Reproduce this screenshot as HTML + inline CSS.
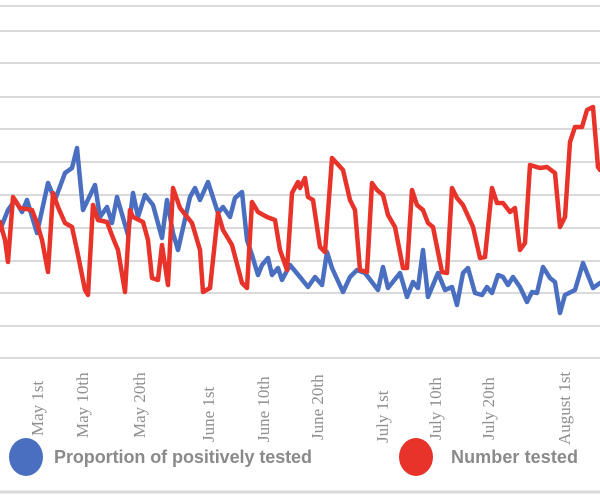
<!DOCTYPE html>
<html><head><meta charset="utf-8"><style>html,body{margin:0;padding:0;background:#fff;width:600px;height:500px;overflow:hidden}</style></head><body>
<svg width="600" height="500" viewBox="0 0 600 500" xmlns="http://www.w3.org/2000/svg">
<g stroke="#dadada" stroke-width="2">
<line x1="0" y1="6" x2="600" y2="6"/><line x1="0" y1="31" x2="600" y2="31"/><line x1="0" y1="63" x2="600" y2="63"/><line x1="0" y1="97" x2="600" y2="97"/><line x1="0" y1="129" x2="600" y2="129"/><line x1="0" y1="162" x2="600" y2="162"/><line x1="0" y1="195" x2="600" y2="195"/><line x1="0" y1="228" x2="600" y2="228"/><line x1="0" y1="261" x2="600" y2="261"/><line x1="0" y1="293" x2="600" y2="293"/><line x1="0" y1="326" x2="600" y2="326"/><line x1="0" y1="358" x2="600" y2="358"/><line x1="0" y1="492" x2="600" y2="492" stroke-width="3"/>
</g>
<g fill="none" stroke-width="4.5" stroke-linejoin="round" stroke-linecap="round">
<polyline stroke="#4a6fc1" points="0,230 8,210 15,200 22,212 27,200 37,233 48,183 55,200 65,173 72,168 77,148 83,210 95,185 100,217 107,207 112,223 117,197 128,235 133,193 138,217 145,195 153,205 162,238 167,200 173,233 178,250 190,197 195,188 200,200 208,182 218,213 223,207 230,217 235,198 242,192 247,240 252,255 258,275 262,265 268,258 272,275 278,268 282,280 290,265 300,277 308,287 315,277 322,285 327,252 332,268 343,292 350,277 357,270 365,273 378,290 383,267 388,288 400,273 407,297 413,282 418,288 423,250 428,297 438,273 445,290 452,287 457,305 463,273 468,268 475,293 482,295 487,287 492,293 498,275 503,277 508,285 513,277 520,287 527,302 532,292 537,293 543,267 550,278 555,282 560,313 565,295 575,290 583,263 593,288 600,283"/>
<polyline stroke="#e8332a" points="0,222 5,240 8,262 13,197 20,208 32,210 37,223 42,240 48,272 53,193 58,207 65,223 72,227 77,250 85,290 88,295 93,205 98,220 107,222 113,238 118,250 125,292 130,210 133,217 143,222 148,240 152,278 158,280 162,245 168,285 173,188 180,208 192,223 200,250 203,292 210,288 218,213 223,230 232,245 242,283 247,288 252,202 258,212 267,217 275,220 280,250 287,270 292,193 298,182 300,188 305,178 308,197 313,200 320,247 325,252 332,158 343,170 350,200 355,210 360,270 367,272 372,183 377,190 383,195 388,215 395,227 403,268 407,268 412,190 417,205 423,210 428,223 433,227 442,272 447,273 452,188 457,198 463,205 473,227 480,258 485,257 492,188 497,203 503,203 510,212 515,208 520,250 525,243 530,165 540,168 547,167 555,173 560,227 565,217 570,142 575,127 582,127 587,110 593,107 598,167 600,170"/>
</g>
<g font-family="Liberation Serif, serif" font-size="17" fill="#8f8f8f" text-anchor="start">
<text transform="translate(43,436) rotate(-90)">May 1st</text>
<text transform="translate(88,438) rotate(-90)">May 10th</text>
<text transform="translate(145,438) rotate(-90)">May 20th</text>
<text transform="translate(214,442) rotate(-90)">June 1st</text>
<text transform="translate(269,442) rotate(-90)">June 10th</text>
<text transform="translate(323,440) rotate(-90)">June 20th</text>
<text transform="translate(388,443) rotate(-90)">July 1st</text>
<text transform="translate(441,440) rotate(-90)">July 10th</text>
<text transform="translate(494,440) rotate(-90)">July 20th</text>
<text transform="translate(570,445) rotate(-90)">August 1st</text>
</g>
<ellipse cx="26" cy="457" rx="17" ry="19" fill="#4a6fc1"/>
<ellipse cx="416" cy="457" rx="17" ry="19" fill="#e8332a"/>
<g font-family="Liberation Sans, sans-serif" font-size="18" font-weight="bold" fill="#8a8a8a">
<text x="54" y="463" textLength="258">Proportion of positively tested</text>
<text x="451" y="463" textLength="127">Number tested</text>
</g>
</svg>
</body></html>
